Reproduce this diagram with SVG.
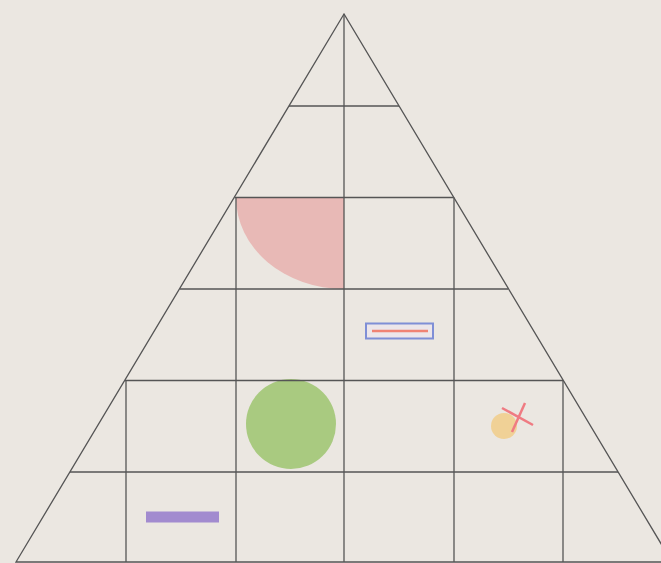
<svg xmlns="http://www.w3.org/2000/svg" width="661" height="563" viewBox="0 0 661 563">
<style>
.ln{stroke:#555;stroke-width:1.3;fill:none}
</style>
<rect x="0" y="0" width="661" height="563" fill="#ebe7e1"/>
<g id="shapes">
<path d="M344,197.5 L236,197.5 A108,91.5 0 0 0 344,289 Z" fill="#e8b9b6"/>
<circle cx="291" cy="424" r="45" fill="#a9ca80"/>
<rect x="366" y="323.5" width="67" height="15" fill="#ece6ea" stroke="#7f8fd6" stroke-width="2"/>
<line x1="372" y1="331" x2="428" y2="331" stroke="#f08374" stroke-width="2.5"/>
<circle cx="504" cy="426" r="13" fill="#f0d091" opacity="0.95"/>
<line x1="502" y1="408" x2="533" y2="425" stroke="#ef7b82" stroke-width="2.5"/>
<line x1="525" y1="403" x2="512" y2="432" stroke="#ef7b82" stroke-width="2.5"/>
<rect x="146" y="511.5" width="73" height="11" fill="#a28bcf"/>
</g>
<g id="grid">
<polygon class="ln" points="344,14 16,562 672,562"/>
<line class="ln" x1="344" y1="14" x2="344" y2="562"/>
<line class="ln" x1="289" y1="106" x2="399" y2="106"/>
<line class="ln" x1="234.5" y1="197.5" x2="453.5" y2="197.5"/>
<line class="ln" x1="180" y1="289" x2="508" y2="289"/>
<line class="ln" x1="125" y1="380.5" x2="563" y2="380.5"/>
<line class="ln" x1="70" y1="472" x2="618" y2="472"/>
<line class="ln" x1="236" y1="197.5" x2="236" y2="562"/>
<line class="ln" x1="454" y1="197.5" x2="454" y2="562"/>
<line class="ln" x1="126" y1="380.5" x2="126" y2="562"/>
<line class="ln" x1="563" y1="380.5" x2="563" y2="562"/>
</g>
</svg>
